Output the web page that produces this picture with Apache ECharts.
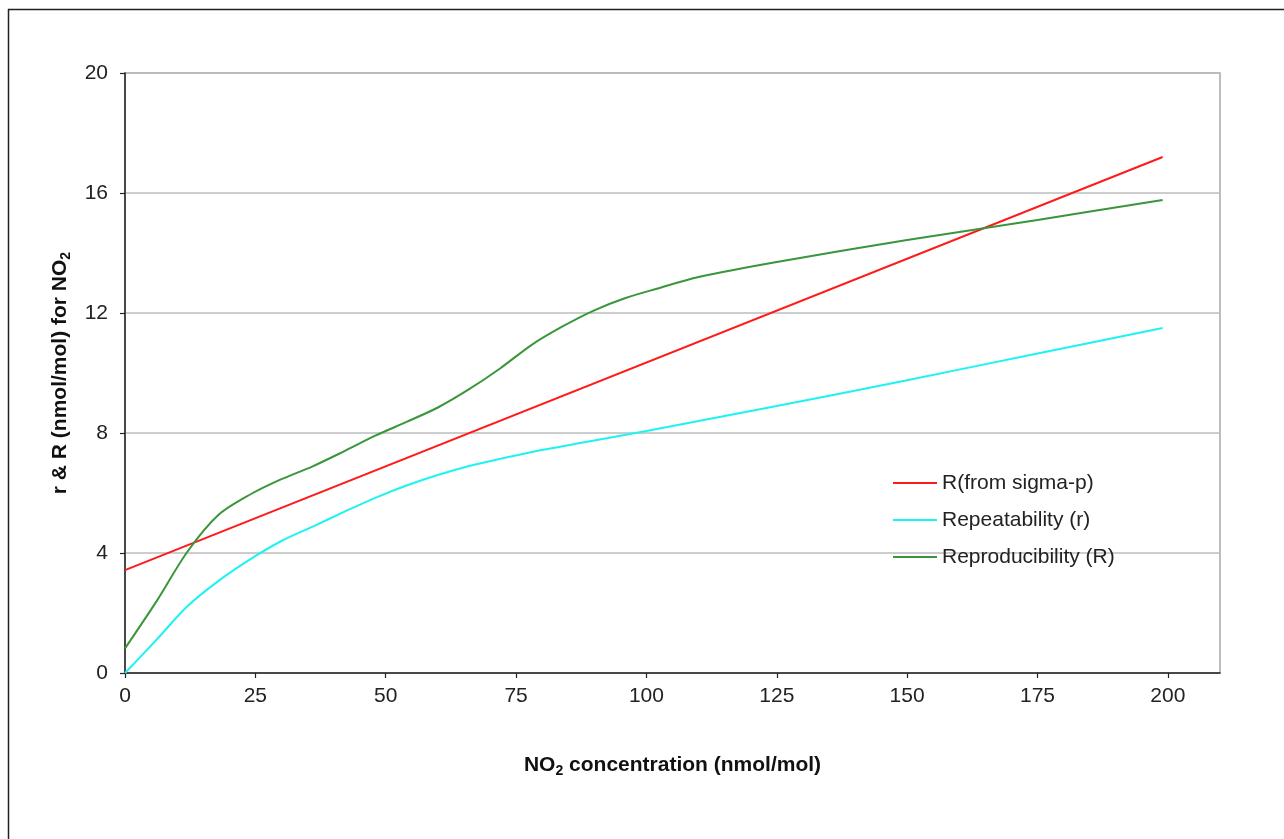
<!DOCTYPE html>
<html>
<head>
<meta charset="utf-8">
<title>r & R for NO2</title>
<script src="https://cdn.jsdelivr.net/npm/echarts@6/dist/echarts.min.js"></script>
<style>
  html, body { margin: 0; padding: 0; background: #fff; }
  #chart { width: 1284px; height: 839px; }
</style>
</head>
<body>
<div id="chart"></div>
<script>
// Axis ticks
const xTicks = [0, 25, 50, 75, 100, 125, 150, 175, 200];
const yTicks = [0, 4, 8, 12, 16, 20];

// R (from sigma-p): straight line
const sigmaX = [0, 199];
const sigmaY = [3.43, 17.2];

// Repeatability (r)
const repX = [0, 6, 12, 18, 24, 30, 36, 42, 48, 54, 60, 66, 72, 78, 84, 90, 100, 125, 150, 175, 199];
const repY = [0, 1.1, 2.23, 3.08, 3.79, 4.4, 4.88, 5.37, 5.84, 6.25, 6.6, 6.9, 7.14, 7.37, 7.56, 7.75, 8.07, 8.9, 9.76, 10.65, 11.5];

// Reproducibility (R)
const reproX = [0, 6, 12, 18, 24, 30, 36, 42, 48, 54, 60, 66, 72, 78, 84, 90, 96, 102, 110, 125, 150, 175, 199];
const reproY = [0.82, 2.38, 4.05, 5.28, 5.95, 6.46, 6.89, 7.39, 7.91, 8.37, 8.85, 9.46, 10.16, 10.94, 11.56, 12.09, 12.5, 12.81, 13.2, 13.7, 14.43, 15.1, 15.77];

const names = ['R(from sigma-p)', 'Repeatability (r)', 'Reproducibility (R)'];
const colors = ['#ff1a1a', '#1ff2f2', '#3a963a'];

const pairs = (xs, ys) => xs.map((x, i) => [x, ys[i]]);

const FONT = 'Liberation Sans, Arial, sans-serif';
const chart = echarts.init(document.getElementById('chart'));

const lineSeries = (name, data, color) => ({
  name,
  type: 'line',
  data,
  smooth: 0.3,
  showSymbol: false,
  symbol: 'none',
  lineStyle: { color, width: 2 },
  itemStyle: { color },
  emphasis: { disabled: true },
  animation: false
});

const richName = {
  b: { fontSize: 21, fontWeight: 'bold', color: '#111', fontFamily: FONT },
  s: { fontSize: 14, fontWeight: 'bold', color: '#111', fontFamily: FONT, padding: [11, 0, 0, 0] }
};

chart.setOption({
  animation: false,
  backgroundColor: '#fff',
  textStyle: { fontFamily: FONT },
  grid: {
    left: 125, top: 73, right: 64, bottom: 166,
    show: true, borderColor: '#a8a8a8', borderWidth: 1.5
  },
  graphic: [
    // outer frame (left and top edges visible)
    { type: 'line', shape: { x1: 8.5, y1: 9, x2: 8.5, y2: 900 }, style: { stroke: '#222', lineWidth: 1.5 } },
    { type: 'line', shape: { x1: 8, y1: 9.5, x2: 1300, y2: 9.5 }, style: { stroke: '#222', lineWidth: 1.5 } }
  ],
  legend: {
    orient: 'vertical',
    left: 893,
    top: 471,
    padding: 0,
    itemWidth: 44,
    itemHeight: 2,
    itemGap: 13,
    icon: 'rect',
    data: names,
    textStyle: { fontSize: 21, color: '#222', fontFamily: FONT, lineHeight: 24 },
    selectedMode: false
  },
  xAxis: {
    type: 'value',
    min: 0, max: 210, interval: 25,
    name: '{b|NO}{s|2}{b| concentration (nmol/mol)}',
    nameLocation: 'middle',
    nameGap: 80,
    nameTextStyle: { rich: richName },
    axisLine: { lineStyle: { color: '#222', width: 1.5 } },
    axisTick: { show: true, length: 5, inside: false, customValues: xTicks, lineStyle: { color: '#222', width: 1.2 } },
    axisLabel: { customValues: xTicks, fontSize: 21, color: '#222', margin: 13, fontFamily: FONT },
    splitLine: { show: false }
  },
  yAxis: {
    type: 'value',
    min: 0, max: 20, interval: 4,
    name: '{b|r & R (nmol/mol) for NO}{s|2}',
    nameLocation: 'middle',
    nameGap: 52,
    nameTextStyle: { rich: richName },
    axisLine: { show: true, lineStyle: { color: '#222', width: 1.5 } },
    axisTick: { show: true, length: 5, inside: false, lineStyle: { color: '#222', width: 1.2 } },
    axisLabel: { customValues: yTicks, fontSize: 21, color: '#222', margin: 17, fontFamily: FONT },
    splitLine: { show: true, lineStyle: { color: '#bdbdbd', width: 1.5 } }
  },
  series: [
    lineSeries(names[0], pairs(sigmaX, sigmaY), colors[0]),
    lineSeries(names[1], pairs(repX, repY), colors[1]),
    lineSeries(names[2], pairs(reproX, reproY), colors[2])
  ]
});
</script>
</body>
</html>
